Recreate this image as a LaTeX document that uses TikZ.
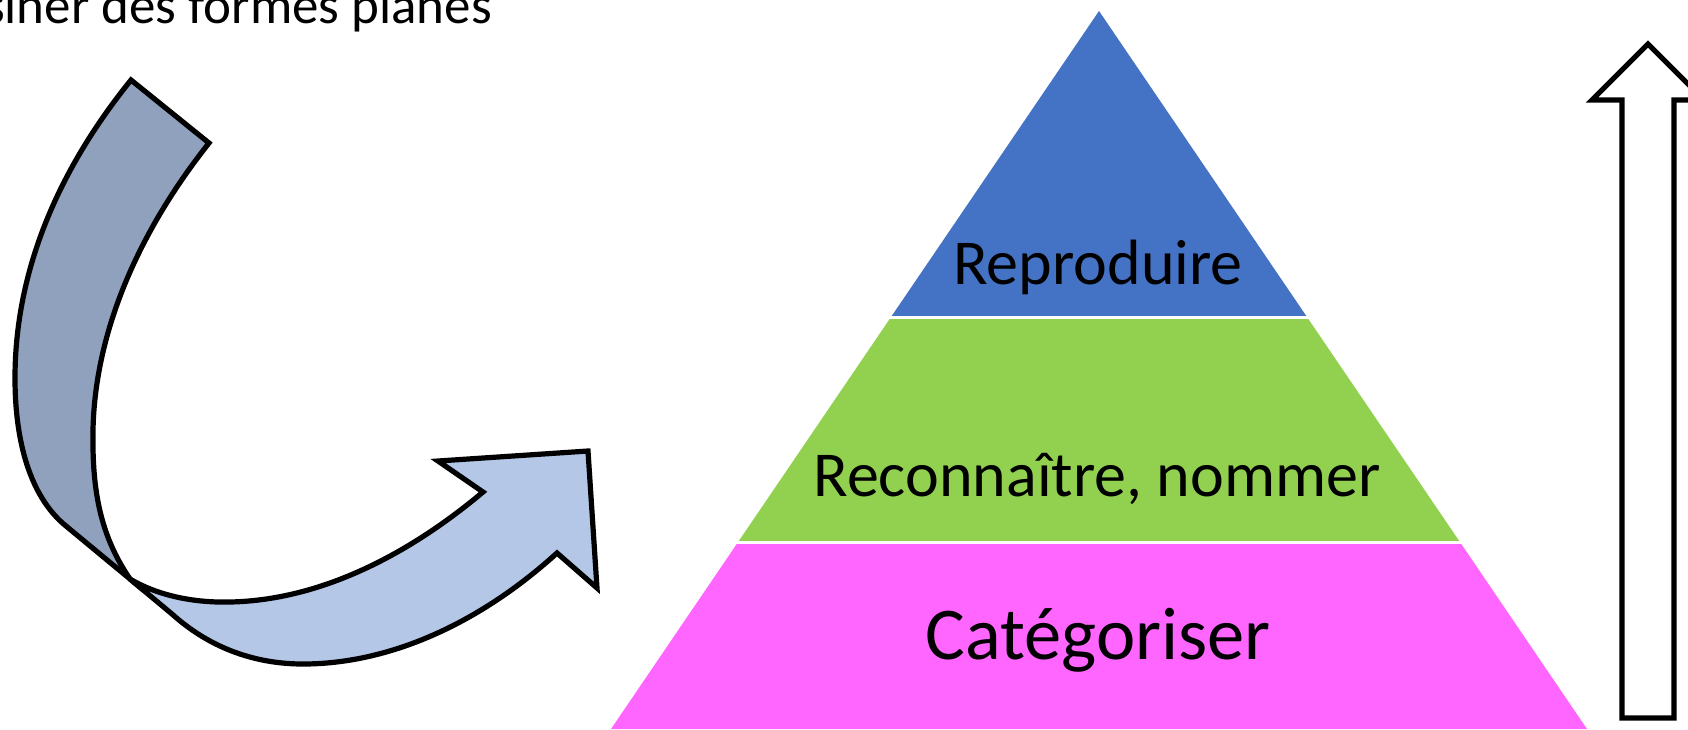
\documentclass[tikz,border=0pt]{standalone}
\usepackage{fontspec}
\setmainfont{Carlito}
\definecolor{bandblue}{HTML}{4472C4}
\definecolor{bandgreen}{HTML}{92D050}
\definecolor{bandpink}{HTML}{FF66FF}
\definecolor{darkrib}{HTML}{8FA1BC}
\definecolor{lightrib}{HTML}{B4C7E7}
\begin{document}
\begin{tikzpicture}[x=1pt,y=-1pt,line join=miter,
  outline/.style={draw=black,line width=5.2pt},
  label/.style={anchor=base,inner sep=0pt,text=black}]
\useasboundingbox (0,0) rectangle (1688,729);
\clip (0,0) rectangle (1688,729);
\fill[white] (0,0) rectangle (1688,729);

% title (clipped at the left edge)
\node[label,anchor=base east,font=\fontsize{53}{64}\selectfont] (title) at (492,23) {Dessiner des formes planes};

% pyramid
\begin{scope}
  \clip (1099,11) -- (611,729) -- (1587,729) -- cycle;
  \fill[bandblue] (500,0) rectangle (1700,317);
  \fill[bandgreen] (500,317) rectangle (1700,542.5);
  \fill[bandpink] (500,542.5) rectangle (1700,740);
\end{scope}
\draw[white,line width=3pt] (600,317) -- (1600,317);
\draw[white,line width=3pt] (600,542.5) -- (1600,542.5);

\node[label,font=\fontsize{64}{77}\selectfont] (rep) at (1098,284) {Reproduire};
\node[label,font=\fontsize{64}{77}\selectfont] (rec) at (1097,496) {Reconnaître, nommer};
\node[label,font=\fontsize{74.5}{90}\selectfont] (cat) at (1098,659) {Catégoriser};

% curved ribbon arrow: back (dark) part
\path[outline,fill=darkrib]
  (131,80) .. controls (55,174) and (15,275) .. (15,378)
  .. controls (15,450) and (34,500) .. (66,526) -- (130,579)
  .. controls (100,535) and (92,490) .. (93,430)
  .. controls (95,330) and (140,230) .. (209,143) -- cycle;
% front (light) part with the head
\path[outline,fill=lightrib]
  (130,579) -- (172,614)
  .. controls (212,650) and (258,664) .. (303,664)
  .. controls (390,664) and (480,623) .. (557,553)
  -- (597,588) -- (588,451) -- (438,461) -- (483,492)
  .. controls (420,545) and (330,600) .. (230,602)
  .. controls (190,603) and (155,594) .. (130,579) -- cycle;

% vertical block arrow
\path[draw=black,line width=5.2pt,fill=white]
  (1622,718) -- (1622,100) -- (1592,100) -- (1648,44) -- (1704,100)
  -- (1674,100) -- (1674,718) -- cycle;
\end{tikzpicture}
\end{document}
